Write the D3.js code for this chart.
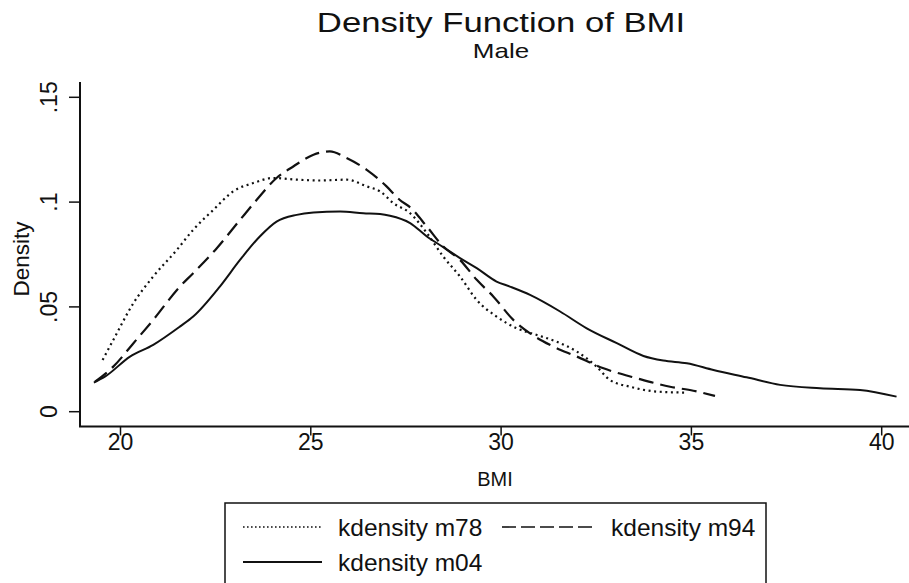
<!DOCTYPE html>
<html>
<head>
<meta charset="utf-8">
<script src="https://cdn.jsdelivr.net/npm/d3@7"></script>
<style>
  html, body { margin: 0; padding: 0; background: #fff; }
  svg { display: block; }
  text { font-family: "Liberation Sans", Arial, sans-serif; fill: #111; }
</style>
</head>
<body>
<svg id="chart" width="909" height="583"></svg>
<script>
// ---- Data ----
const titleText = "Density Function of BMI";
const subtitleText = "Male";
const xLabel = "BMI";
const yLabel = "Density";
const xTicks = [20, 25, 30, 35, 40];
const yTicks = [0, 0.05, 0.1, 0.15];
const yTickLabels = ["0", ".05", ".1", ".15"];
const seriesNames = ["kdensity m78", "kdensity m94", "kdensity m04"];

const m78x = [19.53, 19.81, 20.34, 20.86, 21.48, 21.91, 22.44, 22.96, 23.49, 24.01, 24.63, 25.24, 25.94, 26.47, 26.82, 27.17, 27.61, 28.05, 28.48, 28.92, 29.36, 29.88, 30.41, 30.94, 31.46, 31.99, 32.51, 32.86, 33.39, 34.09, 34.88];
const m78y = [0.0247, 0.0342, 0.0518, 0.0645, 0.0772, 0.0868, 0.0963, 0.1051, 0.1091, 0.1115, 0.1107, 0.1103, 0.1107, 0.1075, 0.1051, 0.0995, 0.0947, 0.0852, 0.0740, 0.0645, 0.0533, 0.0454, 0.0398, 0.0366, 0.0334, 0.0287, 0.0215, 0.0151, 0.0119, 0.0096, 0.0091];

const m94x = [19.33, 19.81, 20.34, 20.86, 21.56, 21.91, 22.53, 23.14, 23.58, 24.10, 24.54, 25.07, 25.50, 25.94, 26.47, 26.99, 27.34, 27.61, 28.05, 28.48, 28.92, 29.36, 29.80, 30.32, 30.76, 31.28, 31.99, 32.69, 33.56, 34.44, 35.05, 35.62];
const m94y = [0.0143, 0.0215, 0.0327, 0.0438, 0.0597, 0.0661, 0.0780, 0.0915, 0.1011, 0.1115, 0.1170, 0.1226, 0.1242, 0.1210, 0.1154, 0.1075, 0.1010, 0.0975, 0.0883, 0.0788, 0.0724, 0.0629, 0.0549, 0.0438, 0.0374, 0.0319, 0.0263, 0.0207, 0.0160, 0.0119, 0.0100, 0.0075];

const m04x = [19.30, 19.59, 20.25, 20.86, 21.56, 21.91, 22.61, 23.14, 23.66, 24.10, 24.63, 25.07, 25.77, 26.38, 26.82, 27.08, 27.61, 28.05, 28.48, 28.92, 29.36, 29.88, 30.23, 30.76, 31.55, 32.25, 33.04, 33.74, 34.26, 34.88, 35.58, 36.45, 37.33, 38.38, 39.43, 40.39];
const m04y = [0.0139, 0.0167, 0.0263, 0.0319, 0.0406, 0.0454, 0.0597, 0.0724, 0.0836, 0.0907, 0.0939, 0.0950, 0.0955, 0.0947, 0.0943, 0.0935, 0.0900, 0.0836, 0.0785, 0.0733, 0.0685, 0.0621, 0.0597, 0.0557, 0.0478, 0.0398, 0.0327, 0.0266, 0.0244, 0.0231, 0.0199, 0.0164, 0.0128, 0.0112, 0.0104, 0.0072];

// ---- Layout ----
const svg = d3.select("#chart");
const x = d3.scaleLinear().domain([20, 40]).range([120.5, 881.7]);
const y = d3.scaleLinear().domain([0, 0.15]).range([411.7, 97.3]);
const plotLeft = 80, plotRight = 909, plotTop = 82, plotBottom = 426.5;

const styles = [
  { dash: "2,3.6", width: 2.2 },
  { dash: "15,7", width: 2.2 },
  { dash: null, width: 2 }
];
const series = [
  m78x.map((v, i) => [v, m78y[i]]),
  m94x.map((v, i) => [v, m94y[i]]),
  m04x.map((v, i) => [v, m04y[i]])
];

function stext(sel, tx, ty, str, size, anchor, rot, sx) {
  return sel.append("text")
    .attr("transform", `translate(${tx},${ty})` + (sx ? ` scale(${sx},1)` : "") + (rot ? ` rotate(${rot})` : ""))
    .attr("font-size", size)
    .attr("text-anchor", anchor)
    .text(str);
}

// Titles
stext(svg, 501, 32, titleText, 28, "middle", 0, 1.24);
stext(svg, 501, 58, subtitleText, 20, "middle", 0, 1.3);

// Axes lines
svg.append("line").attr("x1", plotLeft).attr("x2", plotLeft).attr("y1", plotTop).attr("y2", plotBottom)
  .attr("stroke", "#111").attr("stroke-width", 2);
svg.append("line").attr("x1", plotLeft - 1).attr("x2", plotRight).attr("y1", plotBottom).attr("y2", plotBottom)
  .attr("stroke", "#111").attr("stroke-width", 2);

// Y ticks
yTicks.forEach((v, i) => {
  svg.append("line").attr("x1", plotLeft - 11).attr("x2", plotLeft).attr("y1", y(v)).attr("y2", y(v))
    .attr("stroke", "#111").attr("stroke-width", 1.5);
  stext(svg, 57, y(v), yTickLabels[i], 23, "middle", -90);
});
// X ticks
xTicks.forEach(v => {
  svg.append("line").attr("x1", x(v)).attr("x2", x(v)).attr("y1", plotBottom).attr("y2", plotBottom + 9)
    .attr("stroke", "#111").attr("stroke-width", 1.5);
  stext(svg, x(v), 450, String(v), 23, "middle");
});

// Axis titles
stext(svg, 29, 259, yLabel, 22.5, "middle", -90);
stext(svg, 495, 486, xLabel, 21, "middle", 0, 0.95);

// Curves
const line = d3.line().x(d => x(d[0])).y(d => y(d[1])).curve(d3.curveMonotoneX);
series.forEach((s, i) => {
  const p = svg.append("path").datum(s).attr("d", line)
    .attr("fill", "none").attr("stroke", "#111")
    .attr("stroke-width", styles[i].width)
    .attr("stroke-linejoin", "round");
  if (styles[i].dash) p.attr("stroke-dasharray", styles[i].dash);
});

// Legend
const lg = svg.append("g");
lg.append("rect").attr("x", 225).attr("y", 503).attr("width", 541).attr("height", 90)
  .attr("fill", "none").attr("stroke", "#111").attr("stroke-width", 1.5);
const legendItems = [
  { x1: 243, x2: 322, tx: 338, y: 527, s: 0 },
  { x1: 502, x2: 594, tx: 611, y: 527, s: 1 },
  { x1: 243, x2: 322, tx: 338, y: 562, s: 2 }
];
legendItems.forEach(it => {
  const l = lg.append("line").attr("x1", it.x1).attr("x2", it.x2).attr("y1", it.y).attr("y2", it.y)
    .attr("stroke", "#111").attr("stroke-width", it.s === 2 ? 2 : 1.6);
  if (it.s === 0) l.attr("stroke-dasharray", "1.6,2.4");
  if (it.s === 1) l.attr("stroke-dasharray", "14,5");
  stext(lg, it.tx, it.y + 9, seriesNames[it.s], 24.5, "start");
});
</script>
</body>
</html>
